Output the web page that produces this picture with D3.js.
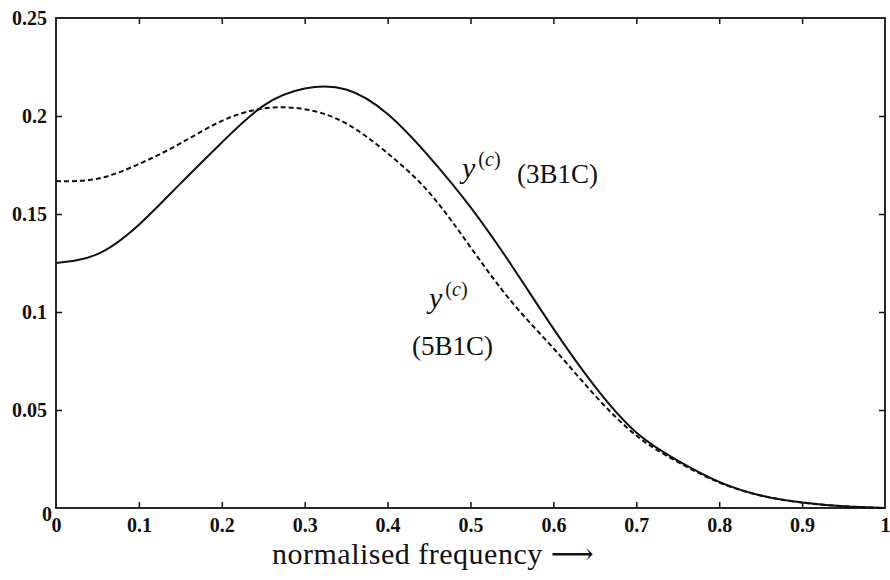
<!DOCTYPE html>
<html>
<head>
<meta charset="utf-8">
<script src="https://cdn.jsdelivr.net/npm/d3@7"></script>
<style>
  body { margin: 0; background: #fff; }
  svg { display: block; }
  .tick line { stroke: #111; stroke-width: 1.5; }
</style>
</head>
<body>
<svg id="chart"></svg>
<script>
const freq = [0, 0.05, 0.1, 0.15, 0.2, 0.25, 0.3, 0.35, 0.4, 0.45, 0.5,
              0.55, 0.6, 0.65, 0.7, 0.75, 0.8, 0.85, 0.9, 0.95, 1];
const y3B1C = [0.125, 0.1295, 0.1445, 0.1655, 0.1865, 0.2052, 0.2140, 0.2135, 0.201, 0.1793, 0.1535,
               0.1235, 0.0915, 0.062, 0.0385, 0.0242, 0.0133, 0.0064, 0.0028, 0.0009, 0];
const y5B1C = [0.1668, 0.168, 0.1755, 0.186, 0.1975, 0.2038, 0.2035, 0.1962, 0.181, 0.161, 0.1331,
               0.105, 0.0815, 0.0575, 0.037, 0.0235, 0.013, 0.0064, 0.0028, 0.0009, 0];
const xTicks = [0, 0.1, 0.2, 0.3, 0.4, 0.5, 0.6, 0.7, 0.8, 0.9, 1];
const yTicks = [0, 0.05, 0.1, 0.15, 0.2, 0.25];

const serif = "'Liberation Serif', 'Times New Roman', 'DejaVu Serif', serif";

const width = 890;
const height = 580;
const margin = { top: 18, right: 5, bottom: 72, left: 56 };

const svg = d3.select("#chart")
    .attr("width", width)
    .attr("height", height);

const x = d3.scaleLinear().domain([0, 1]).range([margin.left, width - margin.right]);
const y = d3.scaleLinear().domain([0, 0.25]).range([height - margin.bottom, margin.top]);

const fmt = d => String(d);

function styleLabels(g) {
    g.attr("font-family", serif).attr("font-size", 20).attr("font-weight", "bold");
    g.selectAll(".tick text").attr("fill", "#111");
}

// inward ticks on all four sides
svg.append("g")
    .attr("transform", `translate(0,${y(0)})`)
    .call(d3.axisBottom(x).tickValues(xTicks).tickFormat(fmt).tickSizeInner(-6).tickSizeOuter(0).tickPadding(10))
    .call(g => g.select(".domain").remove())
    .call(g => g.selectAll(".tick line").filter(d => d === 0 || d === 1).remove())
    .call(styleLabels);

svg.append("g")
    .attr("transform", `translate(0,${y(0.25)})`)
    .call(d3.axisTop(x).tickValues(xTicks.slice(1, -1)).tickFormat("").tickSizeInner(-6).tickSizeOuter(0))
    .call(g => g.select(".domain").remove());

svg.append("g")
    .attr("transform", `translate(${x(0)},0)`)
    .call(d3.axisLeft(y).tickValues(yTicks).tickFormat(fmt).tickSizeInner(-6).tickSizeOuter(0).tickPadding(9))
    .call(g => g.select(".domain").remove())
    .call(g => g.selectAll(".tick line").filter(d => d === 0 || d === 0.25).remove())
    .call(g => g.selectAll(".tick text").filter(d => d === 0).attr("dy", "0.6em").attr("x", -4))
    .call(styleLabels);

svg.append("g")
    .attr("transform", `translate(${x(1)},0)`)
    .call(d3.axisRight(y).tickValues(yTicks.slice(1, -1)).tickFormat("").tickSizeInner(-6).tickSizeOuter(0))
    .call(g => g.select(".domain").remove());

// frame
svg.append("rect")
    .attr("x", x(0))
    .attr("y", y(0.25))
    .attr("width", x(1) - x(0))
    .attr("height", y(0) - y(0.25))
    .attr("fill", "none")
    .attr("stroke", "#111")
    .attr("stroke-width", 1.8);

const line = d3.line()
    .x((d, i) => x(freq[i]))
    .y(d => y(Math.max(0, d)))
    .curve(d3.curveNatural);

svg.append("path")
    .datum(y5B1C)
    .attr("d", line)
    .attr("fill", "none")
    .attr("stroke", "#111")
    .attr("stroke-width", 2)
    .attr("stroke-dasharray", "5,3");

svg.append("path")
    .datum(y3B1C)
    .attr("d", line)
    .attr("fill", "none")
    .attr("stroke", "#111")
    .attr("stroke-width", 2);

// annotations
function note(px, py, size) {
    return svg.append("text")
        .attr("x", px).attr("y", py)
        .attr("font-family", serif)
        .attr("font-size", size)
        .attr("fill", "#111");
}

function yLabel(px, py) {
    const t = note(px, py, 30);
    t.append("tspan").attr("font-style", "italic").text("y");
    t.append("tspan").attr("font-size", 20).attr("dy", -12).attr("dx", 3).text("(");
    t.append("tspan").attr("font-size", 20).attr("font-style", "italic").text("c");
    t.append("tspan").attr("font-size", 20).text(")");
}

yLabel(462, 178);
note(517, 183, 27).text("(3B1C)");

yLabel(429, 308);
note(412, 355, 27).text("(5B1C)");

note(272, 564, 30)
    .attr("letter-spacing", 0.5)
    .text("normalised frequency \u27F6");
</script>
</body>
</html>
